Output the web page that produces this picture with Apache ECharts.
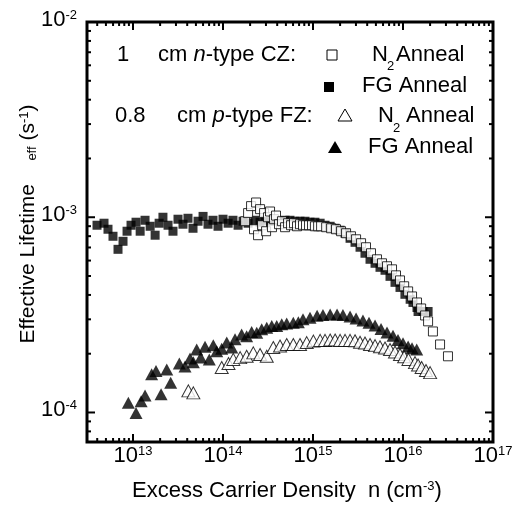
<!DOCTYPE html>
<html><head><meta charset="utf-8">
<script src="https://cdn.jsdelivr.net/npm/echarts@6/dist/echarts.min.js"></script>
<style>html,body{margin:0;padding:0;background:#fff}#c{width:518px;height:510px}</style>
</head><body><div id="c"></div>
<script>
const FONT = '"Liberation Sans", Arial, Helvetica, sans-serif';

// ---- Data (Excess carrier density n [cm^-3], effective lifetime tau [s]) ----
// 1 cm n-type CZ, FG anneal (filled squares)
const czFG_n = [3.98e12,4.76e12,5.27e12,5.99e12,6.81e12,7.74e12,8.58e12,9.50e12,1.08e13,1.20e13,1.36e13,1.55e13,1.76e13,1.95e13,2.15e13,2.45e13,2.78e13,3.16e13,3.59e13,4.08e13,4.64e13,5.28e13,6.00e13,6.81e13,7.74e13,8.80e13,1.00e14,1.14e14,1.29e14,1.47e14,1.67e14,1.90e14,2.27e14,2.58e14,2.93e14,3.33e14,3.78e14,4.30e14,4.89e14,5.55e14,6.31e14,7.17e14,8.15e14,9.26e14,1.05e15,1.20e15,1.36e15,1.55e15,1.76e15,2.00e15,2.27e15,2.58e15,2.93e15,3.33e15,3.78e15,4.30e15,4.89e15,5.55e15,6.31e15,7.17e15,8.15e15,9.26e15,1.05e16,1.20e16,1.29e16,1.43e16,1.47e16,1.67e16,1.90e16];
const czFG_tau = [9.10e-4,9.32e-4,8.68e-4,7.99e-4,6.85e-4,7.53e-4,8.48e-4,9.10e-4,9.43e-4,8.48e-4,9.65e-4,8.99e-4,8.09e-4,9.32e-4,1.00e-3,9.10e-4,8.48e-4,9.77e-4,9.21e-4,9.88e-4,8.78e-4,9.54e-4,1.01e-3,9.21e-4,9.65e-4,8.99e-4,9.77e-4,9.32e-4,9.65e-4,9.10e-4,9.54e-4,9.32e-4,9.65e-4,9.43e-4,9.65e-4,9.54e-4,9.65e-4,9.54e-4,9.65e-4,9.65e-4,9.54e-4,9.54e-4,9.54e-4,9.43e-4,9.43e-4,9.32e-4,9.10e-4,8.99e-4,8.78e-4,8.58e-4,8.28e-4,7.80e-4,7.44e-4,7.02e-4,6.54e-4,6.09e-4,5.81e-4,5.54e-4,5.35e-4,4.98e-4,4.64e-4,4.37e-4,4.03e-4,3.80e-4,3.66e-4,3.45e-4,3.29e-4,3.29e-4,3.29e-4];
// 1 cm n-type CZ, N2 anneal (open squares)
const czN2_n = [1.76e14,1.90e14,2.05e14,2.21e14,2.33e14,2.45e14,2.58e14,2.71e14,2.86e14,3.01e14,3.16e14,3.33e14,3.50e14,3.69e14,3.88e14,4.19e14,4.52e14,4.89e14,5.28e14,5.70e14,6.15e14,6.64e14,7.17e14,7.74e14,8.36e14,9.03e14,9.75e14,1.05e15,1.14e15,1.23e15,1.40e15,1.59e15,1.80e15,2.05e15,2.33e15,2.64e15,3.01e15,3.42e15,3.88e15,4.41e15,5.14e15,5.84e15,6.64e15,7.55e15,8.36e15,9.26e15,1.03e16,1.14e16,1.26e16,1.43e16,1.59e16,1.76e16,1.90e16,2.15e16,2.58e16,3.16e16];
const czN2_tau = [9.54e-4,1.05e-3,1.14e-3,8.68e-4,1.19e-3,8.09e-4,1.10e-3,9.10e-4,1.05e-3,8.48e-4,1.00e-3,1.07e-3,8.89e-4,9.77e-4,1.02e-3,9.21e-4,9.54e-4,8.89e-4,9.32e-4,9.10e-4,9.32e-4,8.99e-4,9.21e-4,9.10e-4,9.10e-4,9.10e-4,9.10e-4,8.99e-4,8.99e-4,8.99e-4,8.89e-4,8.78e-4,8.68e-4,8.48e-4,8.28e-4,7.99e-4,7.71e-4,7.36e-4,7.02e-4,6.54e-4,6.09e-4,5.81e-4,5.61e-4,5.41e-4,5.04e-4,4.75e-4,4.43e-4,4.17e-4,3.93e-4,3.66e-4,3.41e-4,3.14e-4,2.93e-4,2.60e-4,2.23e-4,1.94e-4];
// 0.8 cm p-type FZ, FG anneal (filled triangles)
const fzFG_n = [8.87e12,1.08e13,1.23e13,1.36e13,1.61e13,1.80e13,2.05e13,2.37e13,2.62e13,3.27e13,3.78e13,4.30e13,4.68e13,5.10e13,5.65e13,6.31e13,7.04e13,7.80e13,8.51e13,9.67e13,1.10e14,1.25e14,1.36e14,1.61e14,1.83e14,2.08e14,2.37e14,2.69e14,3.06e14,3.48e14,3.95e14,4.49e14,5.10e14,6.04e14,6.87e14,7.74e14,9.26e14,1.11e15,1.29e15,1.55e15,1.85e15,2.15e15,2.58e15,3.01e15,3.59e15,4.19e15,4.89e15,5.70e15,6.64e15,7.74e15,8.80e15,1.00e16,1.14e16,1.26e16,1.42e16];
const fzFG_tau = [1.12e-4,9.95e-5,1.14e-4,1.22e-4,1.57e-4,1.63e-4,1.24e-4,1.66e-4,1.42e-4,1.78e-4,1.72e-4,1.89e-4,1.81e-4,2.10e-4,1.91e-4,2.17e-4,1.87e-4,2.21e-4,2.06e-4,2.12e-4,2.28e-4,2.15e-4,2.37e-4,2.51e-4,2.46e-4,2.58e-4,2.56e-4,2.67e-4,2.72e-4,2.77e-4,2.77e-4,2.83e-4,2.86e-4,2.88e-4,2.90e-4,3.00e-4,3.06e-4,3.13e-4,3.16e-4,3.18e-4,3.18e-4,3.16e-4,3.10e-4,3.03e-4,2.96e-4,2.88e-4,2.79e-4,2.68e-4,2.57e-4,2.47e-4,2.35e-4,2.26e-4,2.18e-4,2.13e-4,2.10e-4];
// 0.8 cm p-type FZ, N2 anneal (open triangles)
const fzN2_n = [4.12e13,4.68e13,9.67e13,1.15e14,1.30e14,1.55e14,1.83e14,2.17e14,2.58e14,3.06e14,3.62e14,4.30e14,5.10e14,6.04e14,7.17e14,8.51e14,1.01e15,1.20e15,1.36e15,1.55e15,1.76e15,2.00e15,2.27e15,2.58e15,2.93e15,3.33e15,3.78e15,4.30e15,4.89e15,5.55e15,6.31e15,7.17e15,8.15e15,9.26e15,1.03e16,1.15e16,1.36e16,1.47e16,1.61e16,1.80e16,2.00e16];
const fzN2_tau = [1.29e-4,1.26e-4,1.70e-4,1.78e-4,1.87e-4,1.91e-4,1.94e-4,2.02e-4,1.98e-4,1.94e-4,2.15e-4,2.19e-4,2.23e-4,2.23e-4,2.23e-4,2.28e-4,2.32e-4,2.34e-4,2.34e-4,2.35e-4,2.35e-4,2.34e-4,2.34e-4,2.34e-4,2.33e-4,2.29e-4,2.27e-4,2.23e-4,2.20e-4,2.17e-4,2.14e-4,2.10e-4,2.04e-4,1.98e-4,1.93e-4,1.87e-4,1.80e-4,1.75e-4,1.70e-4,1.64e-4,1.60e-4];

// Axis ranges and tick labels
const xMin = 3.08e12, xMax = 1e17, yMin = 7.06e-5, yMax = 1e-2;
const xExponents = ['13','14','15','16','17'];
const yExponents = ['-4','-3','-2'];

const zip = (a, b) => a.map((v, i) => [v, b[i]]);

// tick positions (major at decades, minor at 2..9 x decade)
const xMajor = xExponents.map(e => Math.pow(10, +e));
const yMajor = yExponents.map(e => Math.pow(10, +e));
const xMinor = [], yMinor = [];
for (let d = 12; d <= 16; d++) for (let m = 2; m <= 9; m++) { const v = m * Math.pow(10, d); if (v > xMin && v < xMax) xMinor.push(v); }
for (let d = -5; d <= -3; d++) for (let m = 2; m <= 9; m++) { const v = m * Math.pow(10, d); if (v > yMin && v < yMax) yMinor.push(v); }
const tickData = [];
xMajor.forEach(v => tickData.push([v, yMin, 1, 0]));
xMinor.forEach(v => tickData.push([v, yMin, 0, 0]));
yMajor.forEach(v => tickData.push([xMin, v, 1, 1]));
yMinor.forEach(v => tickData.push([xMin, v, 0, 1]));

const supRich = {
  b: { fontSize: 22, fontFamily: FONT, color: '#000', verticalAlign: 'bottom', lineHeight: 22 },
  s: { fontSize: 13, fontFamily: FONT, color: '#000', verticalAlign: 'top', lineHeight: 13, padding: [0, 0, 14, 0] }
};
function powLabel(v) {
  const l = Math.log10(v), e = Math.round(l);
  if (Math.abs(l - e) > 1e-6) return '';
  return '{b|10}{s|' + (e < 0 ? '-' + (-e) : e) + '}';
}

const chart = echarts.init(document.getElementById('c'), null, { renderer: 'canvas' });

const txt = (text, x, y, size, extra) => ({
  type: 'text', x: x, y: y, silent: true,
  style: Object.assign({ text: text, fill: '#000', fontSize: size, fontFamily: FONT,
    align: 'left', verticalAlign: 'middle', textAlign: 'left', textVerticalAlign: 'middle' }, extra || {})
});

const LS = 22;
const graphics = [
  // legend row 1
  txt('1', 117, 55, LS),
  txt('cm {i|n}-type CZ:', 158, 55, LS, { rich: { i: { fontStyle: 'italic', fontSize: LS, fontFamily: FONT } } }),
  { type: 'rect', silent: true, shape: { x: 327, y: 50, width: 10, height: 10 }, style: { fill: '#fff', stroke: '#000', lineWidth: 1 } },
  txt('N', 372, 55, LS), txt('2', 387, 66, 13), txt('Anneal', 396, 55, LS),
  // row 2
  { type: 'rect', silent: true, shape: { x: 324, y: 82, width: 10, height: 10 }, style: { fill: '#000' } },
  txt('FG Anneal', 362, 86, LS),
  // row 3
  txt('0.8', 115, 116, LS),
  txt('cm {i|p}-type FZ:', 177, 116, LS, { rich: { i: { fontStyle: 'italic', fontSize: LS, fontFamily: FONT } } }),
  { type: 'polygon', silent: true, shape: { points: [[345, 109], [338, 121], [352, 121]] }, style: { fill: '#fff', stroke: '#000', lineWidth: 1 } },
  txt('N', 378, 116, LS), txt('2', 393, 128, 13), txt('Anneal', 406, 116, LS),
  // row 4
  { type: 'polygon', silent: true, shape: { points: [[335, 141], [328, 153], [342, 153]] }, style: { fill: '#000' } },
  txt('FG Anneal', 368, 147, LS),
  // x axis title
  txt('{m|Excess Carrier Density  n (cm}{s|-3}{m|)}', 132, 491, 22, {
    rich: {
      m: { fontSize: 22, fontFamily: FONT, verticalAlign: 'bottom', lineHeight: 22 },
      s: { fontSize: 13, fontFamily: FONT, verticalAlign: 'top', lineHeight: 13, padding: [0, 0, 12, 0] }
    }
  }),
  // y axis title (rotated)
  {
    type: 'text', x: 28, y: 224, rotation: Math.PI / 2, silent: true,
    style: {
      text: '{m|Effective Lifetime    }{b|eff}{m| (s}{s|-1}{m|)}', fill: '#000', fontSize: 21, fontFamily: FONT,
      align: 'center', verticalAlign: 'middle', textAlign: 'center', textVerticalAlign: 'middle',
      rich: {
        m: { fontSize: 21, fontFamily: FONT, verticalAlign: 'middle', lineHeight: 21 },
        b: { fontSize: 13, fontFamily: FONT, verticalAlign: 'bottom', lineHeight: 13, padding: [20, 0, 0, 0] },
        s: { fontSize: 13, fontFamily: FONT, verticalAlign: 'top', lineHeight: 13, padding: [0, 0, 20, 0] }
      }
    }
  }
];

const option = {
  animation: false,
  backgroundColor: '#fff',
  grid: { left: 87, right: 25, top: 22, bottom: 68, show: true, borderColor: '#000', borderWidth: 3, backgroundColor: 'transparent' },
  xAxis: {
    type: 'log', logBase: 10, min: xMin, max: xMax,
    axisLine: { show: false }, axisTick: { show: false }, splitLine: { show: false },
    axisLabel: { formatter: powLabel, rich: supRich, margin: 3, showMinLabel: true, hideOverlap: false }
  },
  yAxis: {
    type: 'log', logBase: 10, min: yMin, max: yMax,
    axisLine: { show: false }, axisTick: { show: false }, splitLine: { show: false },
    axisLabel: { formatter: powLabel, rich: supRich, margin: 10, padding: [0, 0, 5, 0], hideOverlap: false }
  },
  graphic: graphics,
  series: [
    { name: 'FG Anneal CZ', type: 'scatter', data: zip(czFG_n, czFG_tau), symbol: 'rect', symbolSize: 9,
      itemStyle: { color: '#000' }, silent: true, z: 2 },
    { name: 'N2 Anneal CZ', type: 'scatter', data: zip(czN2_n, czN2_tau), symbol: 'rect', symbolSize: 9,
      itemStyle: { color: '#fff', borderColor: '#000', borderWidth: 1 }, silent: true, z: 3 },
    { name: 'FG Anneal FZ', type: 'scatter', data: zip(fzFG_n, fzFG_tau), symbol: 'triangle', symbolSize: [13, 12],
      itemStyle: { color: '#000' }, silent: true, z: 2 },
    { name: 'N2 Anneal FZ', type: 'scatter', data: zip(fzN2_n, fzN2_tau), symbol: 'triangle', symbolSize: [13, 12],
      itemStyle: { color: '#fff', borderColor: '#000', borderWidth: 1 }, silent: true, z: 3 },
    { type: 'custom', coordinateSystem: 'cartesian2d', silent: true, z: 10, clip: false, data: tickData,
      encode: { x: 0, y: 1 },
      renderItem: function (params, api) {
        const p = api.coord([api.value(0), api.value(1)]);
        const cs = params.coordSys;
        const len = api.value(2) ? 8 : 4;
        const st = { stroke: '#000', lineWidth: 2 };
        if (api.value(3) === 0) {
          return { type: 'group', children: [
            { type: 'line', shape: { x1: p[0], y1: cs.y + cs.height, x2: p[0], y2: cs.y + cs.height - len }, style: st },
            { type: 'line', shape: { x1: p[0], y1: cs.y, x2: p[0], y2: cs.y + len }, style: st }
          ] };
        }
        return { type: 'group', children: [
          { type: 'line', shape: { x1: cs.x, y1: p[1], x2: cs.x + len, y2: p[1] }, style: st },
          { type: 'line', shape: { x1: cs.x + cs.width, y1: p[1], x2: cs.x + cs.width - len, y2: p[1] }, style: st }
        ] };
      }
    }
  ]
};
chart.setOption(option);
</script>
</body></html>
